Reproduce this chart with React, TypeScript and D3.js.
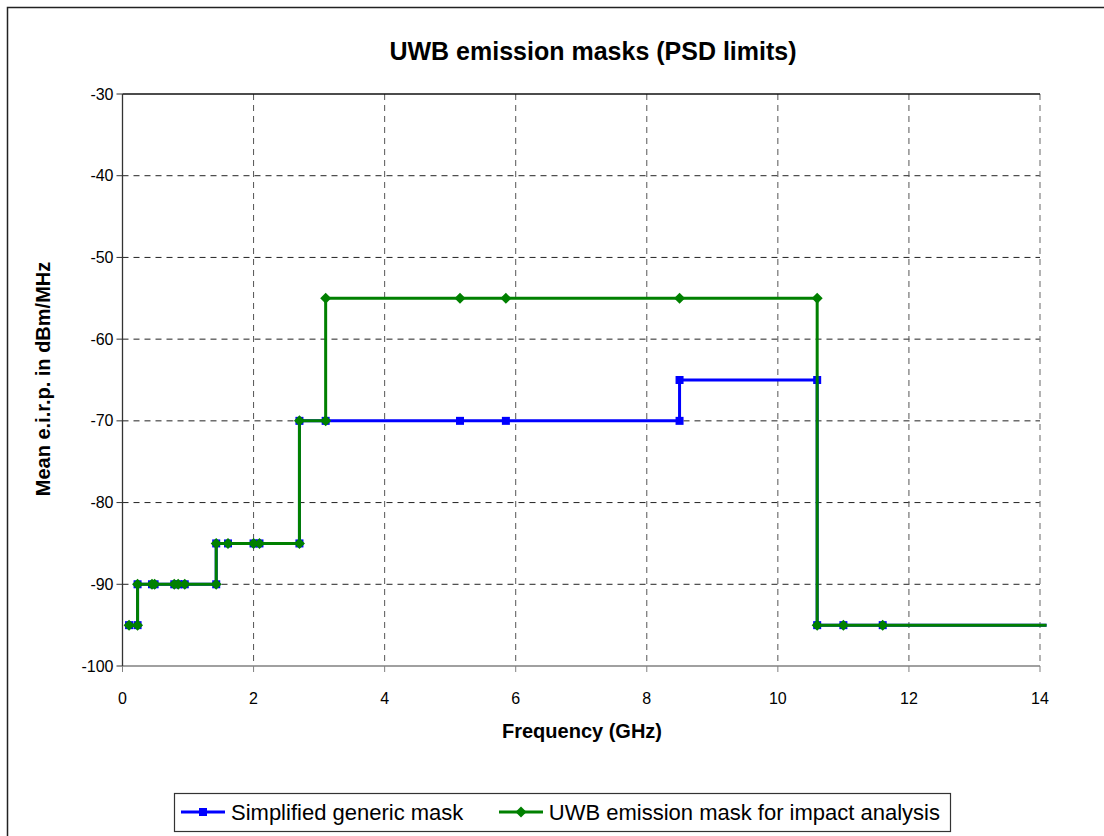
import React from "react";
import * as d3 from "d3";

const xTicks = [0, 2, 4, 6, 8, 10, 12, 14];
const yTicks = [-30, -40, -50, -60, -70, -80, -90, -100];

const genericFreq = [0.1, 0.23, 0.23, 0.45, 0.49, 0.79, 0.85, 0.95, 1.43, 1.43, 1.61, 2.0, 2.09, 2.7, 2.7, 3.1, 5.15, 5.85, 8.5, 8.5, 10.6, 10.6, 11.0, 11.6, 14.1];
const genericPsd = [-95, -95, -90, -90, -90, -90, -90, -90, -90, -85, -85, -85, -85, -85, -70, -70, -70, -70, -70, -65, -65, -95, -95, -95, -95];

const impactFreq = [0.1, 0.23, 0.23, 0.45, 0.49, 0.79, 0.85, 0.95, 1.43, 1.43, 1.61, 2.0, 2.09, 2.7, 2.7, 3.1, 3.1, 5.15, 5.85, 8.5, 10.6, 10.6, 11.0, 11.6, 14.1];
const impactPsd = [-95, -95, -90, -90, -90, -90, -90, -90, -90, -85, -85, -85, -85, -85, -70, -70, -55, -55, -55, -55, -55, -95, -95, -95, -95];

const seriesNames = ["Simplified generic mask", "UWB emission mask for impact analysis"];

const W = 1104, H = 836;
const L = 122.5, R = 1040, T = 94, B = 666;

export default function App() {
  const x = d3.scaleLinear().domain([0, 14]).range([L, R]);
  const y = d3.scaleLinear().domain([-100, -30]).range([B, T]);
  const line = d3.line<[number, number]>().x(d => x(d[0])).y(d => y(d[1]));
  const gen: [number, number][] = genericFreq.map((f, i) => [f, genericPsd[i]]);
  const imp: [number, number][] = impactFreq.map((f, i) => [f, impactPsd[i]]);
  const font = "'Liberation Sans', Arial, sans-serif";
  const sq = 8, dm = 5.5;
  const diamond = (cx: number, cy: number) => `M${cx},${cy - dm}L${cx + dm},${cy}L${cx},${cy + dm}L${cx - dm},${cy}Z`;
  return (
    <svg width={W} height={H} style={{ position: "fixed", left: 0, top: 0, background: "#fff" }} fontFamily={font}>
      <rect x={7.5} y={7.5} width={W + 10} height={H + 10} fill="#fff" stroke="#222" strokeWidth={1.5} />
      <text x={593} y={60} textAnchor="middle" fontSize={25} fontWeight="bold">UWB emission masks (PSD limits)</text>
      {/* grid */}
      {yTicks.filter(v => v !== -100 && v !== -30).map(v => (
        <line key={"gy" + v} x1={L} x2={R} y1={y(v)} y2={y(v)} stroke="#222" strokeDasharray="6,5" strokeWidth={1} />
      ))}
      {xTicks.filter(v => v !== 0 && v !== 14).map(v => (
        <line key={"gx" + v} x1={x(v)} x2={x(v)} y1={T} y2={B} stroke="#555" strokeDasharray="6,5" strokeWidth={1} />
      ))}
      <line x1={R} x2={R} y1={T} y2={B} stroke="#808080" strokeDasharray="6,5" strokeWidth={1.2} />
      <line x1={L} x2={R} y1={T} y2={T} stroke="#111" strokeWidth={1.3} />
      {/* axes */}
      <line x1={L} x2={R} y1={B} y2={B} stroke="#808080" strokeWidth={1.3} />
      <line x1={L} x2={L} y1={T} y2={B} stroke="#333" strokeWidth={1.3} />
      {yTicks.map(v => (
        <g key={"ty" + v}>
          <line x1={L - 6} x2={L} y1={y(v)} y2={y(v)} stroke="#333" />
          <text x={L - 9} y={y(v) + 5.5} textAnchor="end" fontSize={16}>{v}</text>
        </g>
      ))}
      {xTicks.map(v => (
        <g key={"tx" + v}>
          <line x1={x(v)} x2={x(v)} y1={B} y2={B + 6} stroke="#808080" />
          <text x={x(v)} y={B + 38} textAnchor="middle" fontSize={16}>{v}</text>
        </g>
      ))}
      <text x={582} y={738} textAnchor="middle" fontSize={20} fontWeight="bold">Frequency (GHz)</text>
      <text transform={`translate(50,379) rotate(-90)`} textAnchor="middle" fontSize={20} fontWeight="bold">Mean e.i.r.p. in dBm/MHz</text>
      {/* series */}
      <path d={line(gen) || ""} fill="none" stroke="#0000ff" strokeWidth={3} />
      {gen.filter(d => d[0] <= 14).map((d, i) => (
        <rect key={"gm" + i} x={x(d[0]) - sq / 2} y={y(d[1]) - sq / 2} width={sq} height={sq} fill="#0000ff" />
      ))}
      <path d={line(imp) || ""} fill="none" stroke="#008000" strokeWidth={3} />
      {imp.filter(d => d[0] <= 14).map((d, i) => (
        <path key={"im" + i} d={diamond(x(d[0]), y(d[1]))} fill="#008000" />
      ))}
      {/* legend */}
      <rect x={174.5} y={793.5} width={776} height={38} fill="#fff" stroke="#333" strokeWidth={1.2} />
      <line x1={181} x2={225} y1={812} y2={812} stroke="#0000ff" strokeWidth={3} />
      <rect x={203 - sq / 2} y={812 - sq / 2} width={sq} height={sq} fill="#0000ff" />
      <text x={231} y={820} fontSize={22}>{seriesNames[0]}</text>
      <line x1={499} x2={543} y1={812} y2={812} stroke="#008000" strokeWidth={3} />
      <path d={diamond(521, 812)} fill="#008000" />
      <text x={940} y={820} fontSize={22} textAnchor="end">{seriesNames[1]}</text>
    </svg>
  );
}
